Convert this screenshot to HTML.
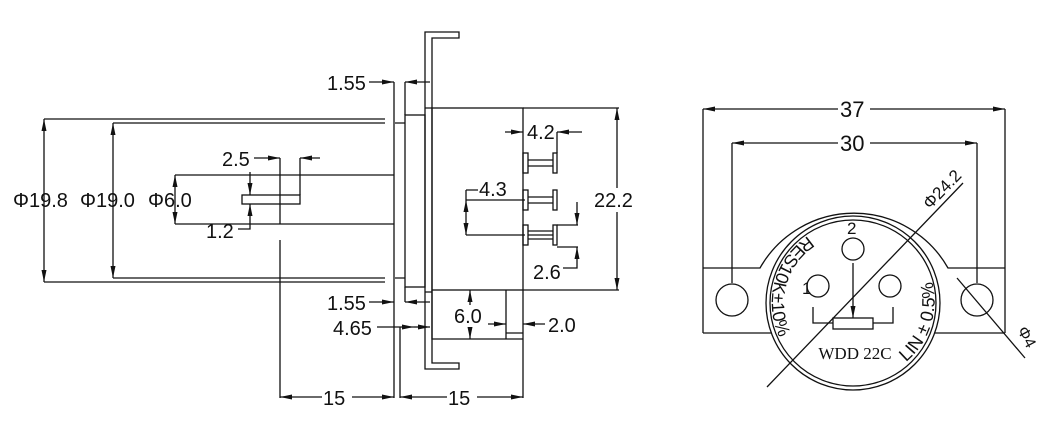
<!DOCTYPE html>
<html><head><meta charset="utf-8"><style>
html,body{margin:0;padding:0;background:#fff;}
svg{display:block;}
text{font-family:"Liberation Sans",sans-serif;fill:#111;}
</style></head><body>
<svg width="1056" height="448" viewBox="0 0 1056 448" xmlns="http://www.w3.org/2000/svg">
<defs>
<marker id="a" viewBox="0 0 10 10" refX="10" refY="5" markerUnits="userSpaceOnUse" markerWidth="12" markerHeight="5" orient="auto-start-reverse" preserveAspectRatio="none"><path d="M0,0 L10,5 L0,10 z" fill="#111"/></marker>
<path id="resPath" d="M 808 236 A 80 80 0 0 0 808 370" fill="none"/>
<path id="linPath" d="M 906 362 A 79 79 0 0 0 914 248" fill="none"/>
</defs>
<g stroke="#111" stroke-width="1.3" fill="none">
<path d="M44 119H385 M113 123H385 M113 278H385 M44 282H385"/>
<path d="M395 123H405 M395 278H405"/>
<path d="M175 175H394 M175 224H394"/>
<path d="M44 119V282" marker-start="url(#a)" marker-end="url(#a)"/>
<path d="M113 123V278" marker-start="url(#a)" marker-end="url(#a)"/>
<path d="M175 175V224" marker-start="url(#a)" marker-end="url(#a)"/>
<path d="M394 82V398"/>
<rect x="242" y="195" width="58" height="9"/>
<path d="M280 158V224 M280 240V398 M300 158V195"/>
<path d="M254 158H280" marker-end="url(#a)"/>
<path d="M320 158H300" marker-end="url(#a)"/>
<path d="M250 172V195" marker-end="url(#a)"/>
<path d="M238 229H250V204" marker-end="url(#a)"/>
<rect x="405" y="115" width="20" height="172"/>
<path d="M425 32H459V38H432V363H459V369H425Z"/>
<path d="M425 108H432 M425 292H432"/>
<rect x="432" y="108" width="91" height="182"/>
<path d="M523 108H619 M523 290H619 M523 290V398"/>
<path d="M617 108V290" marker-start="url(#a)" marker-end="url(#a)"/>
<path d="M432 290V339H506V290 M506 333H523 M506 339H523 M470 339H506"/>
<path d="M470 290V339" marker-start="url(#a)" marker-end="url(#a)"/>
<path d="M488 324H506" marker-end="url(#a)"/>
<path d="M545 324H523" marker-end="url(#a)"/>
<path d="M405 82V115 M405 287V302 M400 327V398"/>
<path d="M369 82H394" marker-end="url(#a)"/>
<path d="M430 82H405" marker-end="url(#a)"/>
<path d="M369 302H394" marker-end="url(#a)"/>
<path d="M430 302H405" marker-end="url(#a)"/>
<path d="M377 327H414" marker-end="url(#a)"/>
<path d="M414 327H430" marker-end="url(#a)"/>
<path d="M280 397H394" marker-start="url(#a)" marker-end="url(#a)"/>
<path d="M400 397H523" marker-start="url(#a)" marker-end="url(#a)"/>
<rect x="523" y="153" width="5" height="20"/><path d="M528 160H553 M528 166H553"/><rect x="553" y="153" width="4" height="20"/>
<rect x="523" y="190" width="5" height="20"/><path d="M528 197H553 M528 203H553"/><rect x="553" y="190" width="4" height="20"/>
<rect x="523" y="225" width="5" height="20"/><path d="M528 231H553 M528 235H553 M528 239H553"/><rect x="553" y="225" width="4" height="20"/>
<path d="M505 132H523" marker-end="url(#a)"/>
<path d="M582 132H557" marker-end="url(#a)"/>
<path d="M557 132V153"/>
<path d="M466 190H478 M466 190V200 M466 200H525 M466 235H525"/>
<path d="M466 200V235" marker-start="url(#a)" marker-end="url(#a)"/>
<path d="M557 225H578 M557 247H578"/>
<path d="M577 202V225" marker-end="url(#a)"/>
<path d="M563 268H577V247" marker-end="url(#a)"/>

<path d="M703 109H1005" marker-start="url(#a)" marker-end="url(#a)"/>
<path d="M732 143H977" marker-start="url(#a)" marker-end="url(#a)"/>
<path d="M703 109V333 M1005 109V333 M732 143V283 M977 143V283"/>
<path d="M703 268H760 A108 108 0 0 1 948 268 H1005"/>
<path d="M703 333H772 M935 333H1005"/>
<circle cx="853" cy="303" r="87"/>
<circle cx="853" cy="303" r="83"/>
<circle cx="732" cy="300" r="16"/>
<circle cx="977" cy="300" r="16"/>
<circle cx="853" cy="249" r="11"/>
<circle cx="818" cy="286" r="11"/>
<circle cx="890" cy="286" r="11"/>
<path d="M853 263V318" marker-end="url(#a)"/>
<path d="M813 307V323H833 M873 323H893V307"/>
<rect x="833" y="318" width="40" height="11"/>
<path d="M767 387L963 183"/>
<path d="M957 278L1025 358"/>
</g>
<g font-size="20">
<text x="13" y="207">Φ19.8</text>
<text x="80" y="207">Φ19.0</text>
<text x="148" y="207">Φ6.0</text>
<text x="222" y="166">2.5</text>
<text x="206" y="238">1.2</text>
<text x="327" y="90">1.55</text>
<text x="327" y="310">1.55</text>
<text x="333" y="335">4.65</text>
<rect x="322" y="386" width="30" height="22" fill="#fff"/>
<text x="323" y="405">15</text>
<rect x="447" y="386" width="30" height="22" fill="#fff"/>
<text x="448" y="405">15</text>
<rect x="594" y="188" width="46" height="24" fill="#fff"/>
<text x="594" y="207">22.2</text>
<rect x="455" y="305" width="30" height="22" fill="#fff"/>
<text x="454" y="323">6.0</text>
<text x="548" y="332">2.0</text>
<text x="527" y="139">4.2</text>
<text x="479" y="196">4.3</text>
<text x="533" y="279">2.6</text>
</g>
<g font-size="22">
<rect x="838" y="97" width="32" height="24" fill="#fff"/>
<text x="840" y="117">37</text>
<rect x="838" y="131" width="32" height="24" fill="#fff"/>
<text x="840" y="151">30</text>
</g>
<text x="847" y="234" font-size="17">2</text>
<text x="802" y="294" font-size="17">1</text>
<text x="855" y="359" font-size="17" text-anchor="middle" style="font-family:'Liberation Serif',serif">WDD 22C</text>
<text font-size="18"><textPath href="#resPath">RES10K±10%</textPath></text>
<text font-size="18"><textPath href="#linPath">LIN ± 0.5%</textPath></text>
<text x="0" y="0" font-size="17" transform="translate(930,210) rotate(-46)">Φ24.2</text>
<text x="0" y="0" font-size="16" transform="translate(1017,330) rotate(62)">Φ4</text>
</svg>
</body></html>
